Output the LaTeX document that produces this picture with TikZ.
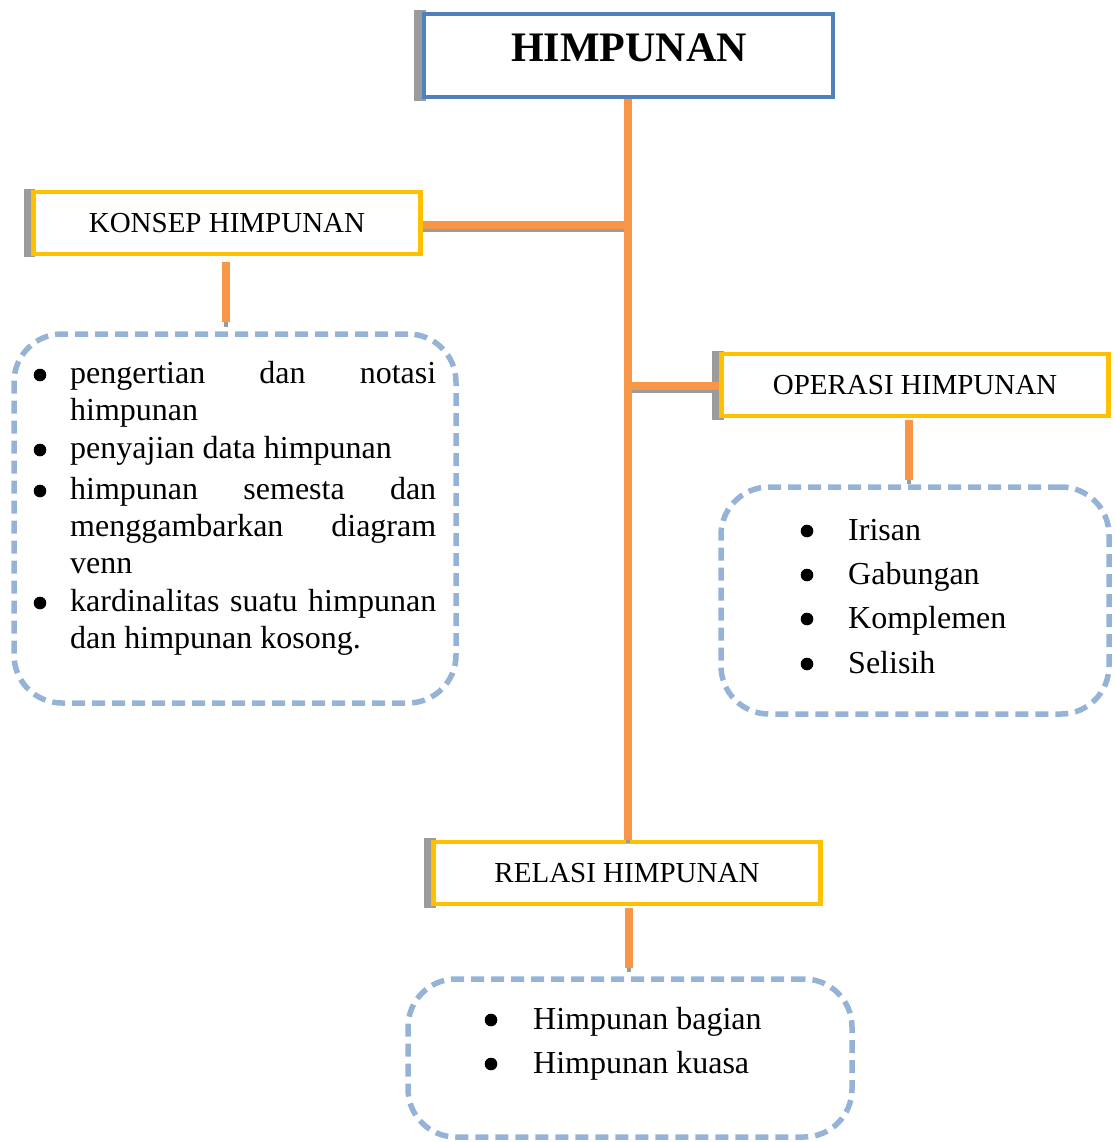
\documentclass[tikz,border=0pt]{standalone}
\usepackage{fontspec}
\setmainfont{Liberation Serif}
\definecolor{orng}{RGB}{247,150,70}
\definecolor{yel}{RGB}{255,192,0}
\definecolor{blu}{RGB}{79,129,189}
\definecolor{dblu}{RGB}{149,179,215}
\definecolor{shd}{RGB}{155,155,155}
\newcommand{\jline}[1]{\makebox[366pt][s]{#1}}
\begin{document}
\begin{tikzpicture}[x=1pt,y=-1pt,
  hdrbox/.style={draw=yel, line width=4.5pt, fill=white, inner sep=0pt,
    minimum width=387pt, minimum height=62pt, font=\fontsize{29}{34}\selectfont},
  titlebox/.style={draw=blu, line width=4.5pt, fill=white, inner sep=0pt,
    minimum width=409pt, minimum height=83pt},
  listbox/.style={draw=dblu, line width=5.5pt, dash pattern=on 13pt off 7pt,
    rounded corners=48pt, inner sep=0pt},
  itemtxt/.style={anchor=base west, inner sep=0pt, font=\fontsize{32}{37}\selectfont},
  conn/.style={draw=orng, line width=7.5pt},
  connshd/.style={draw=shd, line width=4.5pt},
  shadow/.style={fill=shd},
  dot/.style={fill=black}]
\useasboundingbox (0,0) rectangle (1114,1142);

% shadows of header boxes
\fill[shadow] (414,10) rectangle (426,101);
\fill[shadow] (24,189) rectangle (35,257);
\fill[shadow] (712,351) rectangle (724,420);
\fill[shadow] (424,838) rectangle (436,908);

% boxes
\node[titlebox] (title) at (628.5,55.5) {};
\node[inner sep=0pt, font=\fontsize{42}{48}\selectfont\bfseries] (titletext) at (629,48) {HIMPUNAN};
\node[hdrbox] (konsep) at (227,223) {KONSEP HIMPUNAN};
\node[hdrbox] (operasi) at (915,385) {OPERASI HIMPUNAN};
\node[hdrbox] (relasi) at (627,873) {RELASI HIMPUNAN};

\node[listbox, minimum width=442pt, minimum height=369pt] (konseplist) at (235,518.5) {};
\node[listbox, minimum width=388pt, minimum height=227pt] (operasilist) at (915,600.5) {};
\node[listbox, minimum width=444pt, minimum height=158pt] (relasilist) at (630,1058) {};

% junction coordinates on the trunk
\coordinate (jk) at (628,225);
\coordinate (jo) at (628,386);
\coordinate (dk) at (226,262);
\coordinate (dke) at (226,322);
\coordinate (do) at (909,420);
\coordinate (doe) at (909,480);
\coordinate (dr) at (629,908);
\coordinate (dre) at (629,968);

% connector shadows
\draw[connshd] ([yshift=-5pt]jk -| konsep.east) -- ([yshift=-5pt]jk);
\draw[connshd] ([yshift=-5pt]jo) -- ([yshift=-5pt]jo -| operasi.west);
\draw[connshd] (dke) -- ([yshift=-5pt]dke);
\draw[connshd] (doe) -- ([yshift=-4pt]doe);
\draw[connshd] (dre) -- ([yshift=-4pt]dre);
\draw[connshd] (628,838) -- (628,843);

% connectors
\draw[conn] (title.south -| jk) -- (relasi.north -| jk);
\draw[conn] (jk -| konsep.east) -- ([xshift=3pt]jk);
\draw[conn] ([xshift=-3pt]jo) -- (jo -| operasi.west);
\draw[conn] (dk) -- (dke);
\draw[conn] (do) -- (doe);
\draw[conn] (dr) -- (dre);

% left list
\fill[dot] (40,375) circle (6.3pt);
\node[itemtxt] (k1) at (70,383) {\parbox[t]{366pt}{\jline{pengertian dan notasi}\\himpunan}};
\fill[dot] (40,450) circle (6.3pt);
\node[itemtxt] (k2) at (70,458) {penyajian data himpunan};
\fill[dot] (40,491) circle (6.3pt);
\node[itemtxt] (k3) at (70,499) {\parbox[t]{366pt}{\jline{himpunan semesta dan}\\\jline{menggambarkan diagram}\\venn}};
\fill[dot] (40,603) circle (6.3pt);
\node[itemtxt] (k4) at (70,611) {\parbox[t]{366pt}{\jline{kardinalitas suatu himpunan}\\dan himpunan kosong.}};

% right list
\fill[dot] (807,531) circle (6.3pt);
\node[itemtxt] (o1) at (848,540) {Irisan};
\fill[dot] (807,575) circle (6.3pt);
\node[itemtxt] (o2) at (848,584) {Gabungan};
\fill[dot] (807,619) circle (6.3pt);
\node[itemtxt] (o3) at (848,628) {Komplemen};
\fill[dot] (807,664) circle (6.3pt);
\node[itemtxt] (o4) at (848,673) {Selisih};

% bottom list
\fill[dot] (491,1020) circle (6.3pt);
\node[itemtxt] (r1) at (533,1029) {Himpunan bagian};
\fill[dot] (491,1064) circle (6.3pt);
\node[itemtxt] (r2) at (533,1073) {Himpunan kuasa};
\end{tikzpicture}
\end{document}
